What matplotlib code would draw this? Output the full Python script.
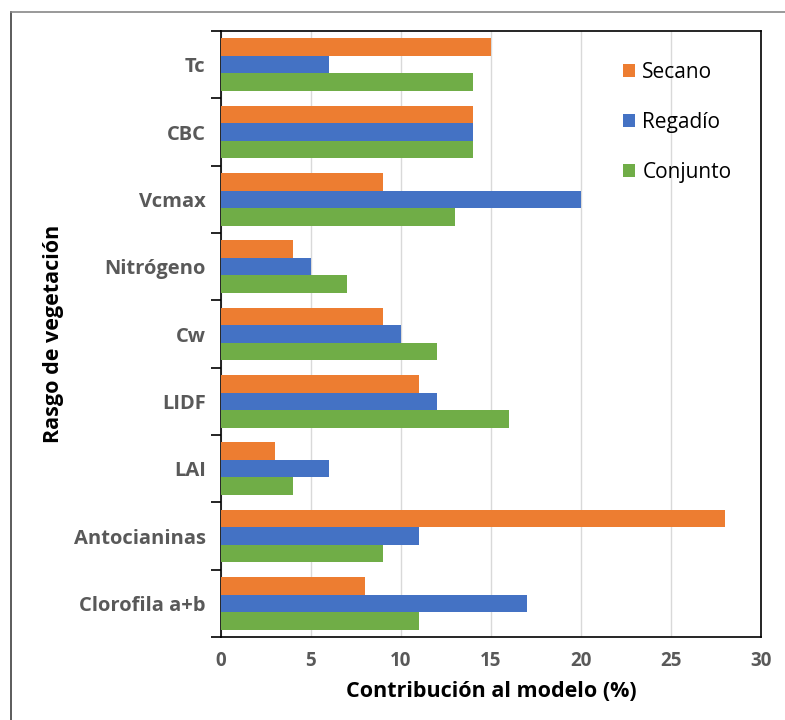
import matplotlib
matplotlib.use("Agg")
import matplotlib.pyplot as plt
import numpy as np
from matplotlib.lines import Line2D

categories = ["Tc", "CBC", "Vcmax", "Nitrógeno", "Cw", "LIDF", "LAI",
              "Antocianinas", "Clorofila a+b"]
secano = [15, 14, 9, 4, 9, 11, 3, 28, 8]
regadio = [6, 14, 20, 5, 10, 12, 6, 11, 17]
conjunto = [14, 14, 13, 7, 12, 16, 4, 9, 11]
series_names = ["Secano", "Regadío", "Conjunto"]
colors = ["#ED7D31", "#4472C4", "#70AD47"]
xticks = [0, 5, 10, 15, 20, 25, 30]

plt.rcParams['font.family'] = ['Open Sans', 'DejaVu Sans']

fig = plt.figure(figsize=(7.85, 7.2), dpi=100)
ax = fig.add_axes([221/785, 1-637/720, (761-221)/785, (637-31)/720])

n = len(categories)
y = np.arange(n)[::-1].astype(float)
h = 0.262
for vals, off, c, name in zip([secano, regadio, conjunto], [h, 0, -h], colors, series_names):
    ax.barh(y + off, vals, height=h, color=c, label=name, zorder=3)

ax.set_xlim(0, 30)
ax.set_ylim(-0.5, n - 0.5)
ax.set_xticks(xticks)
ax.set_xticklabels([str(v) for v in xticks], fontsize=13.5, fontweight='bold', color='#595959')
ax.set_yticks(y)
ax.set_yticklabels(categories, fontsize=14.5, fontweight='bold', color='#595959')
ax.set_yticks(np.arange(-0.5, n, 1.0), minor=True)
ax.tick_params(axis='y', which='major', length=0, pad=11)
ax.tick_params(axis='y', which='minor', length=7, width=1.2, color='black', direction='out')
ax.tick_params(axis='x', length=0, pad=10)
ax.grid(axis='x', color='#D9D9D9', linewidth=1.0, zorder=0)
for s in ax.spines.values():
    s.set_color('black')
    s.set_linewidth(1.2)

ax.set_xlabel("Contribución al modelo (%)", fontsize=15.5, fontweight='bold', color='black', labelpad=7)
ax.set_ylabel("Rasgo de vegetación", fontsize=15.5, fontweight='bold', color='black', labelpad=7)

leg = ax.legend(loc='upper right', bbox_to_anchor=(0.98, 0.98), frameon=False,
                fontsize=15, handlelength=0.6, handleheight=0.6, handletextpad=0.35,
                labelspacing=1.4)

fig.add_artist(Line2D([11/785, 11/785], [0, 1-12/720], transform=fig.transFigure, color='#404040', linewidth=1.2))
fig.add_artist(Line2D([11/785, 1], [1-12/720, 1-12/720], transform=fig.transFigure, color='#888888', linewidth=1.2))

fig.savefig("out.png", dpi=100)
